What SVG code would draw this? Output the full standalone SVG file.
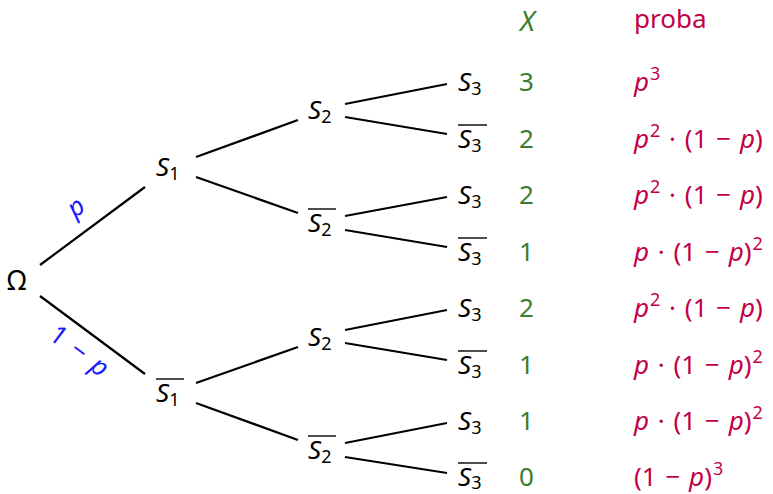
<svg xmlns="http://www.w3.org/2000/svg" width="773" height="494" viewBox="0 0 773 494">
<style>
text{font-family:"Noto Sans","DejaVu Sans",sans-serif;font-size:26px;fill:#000}
.v{font-style:italic}
.sub{font-size:18px;font-style:normal}
.sup{font-size:18px;font-style:normal}
.g{fill:#3a7d2e}
.r{fill:#c20046;word-spacing:2px}
.b{fill:#1a1aff;font-size:26px;word-spacing:4px}
.e{stroke:#000;stroke-width:2.2;fill:none}
.ov{stroke:#000;stroke-width:1.4}
</style>
<rect width="773" height="494" fill="#fff"/>
<g id="edges">
<line class="e" x1="40" y1="265" x2="145" y2="187"/>
<line class="e" x1="40" y1="296" x2="145" y2="374"/>
<line class="e" x1="196" y1="157" x2="298" y2="120"/>
<line class="e" x1="196" y1="177" x2="298" y2="213"/>
<line class="e" x1="196" y1="383" x2="298" y2="347"/>
<line class="e" x1="196" y1="403" x2="298" y2="440"/>
<line class="e" x1="345" y1="104" x2="447" y2="84"/>
<line class="e" x1="345" y1="117" x2="447" y2="134"/>
<line class="e" x1="345" y1="216" x2="447" y2="197"/>
<line class="e" x1="345" y1="230" x2="447" y2="247"/>
<line class="e" x1="345" y1="330" x2="447" y2="310"/>
<line class="e" x1="345" y1="343" x2="447" y2="360"/>
<line class="e" x1="345" y1="443" x2="447" y2="423"/>
<line class="e" x1="345" y1="457" x2="447" y2="473"/>
<text class="b v" transform="translate(81,214) rotate(-37)" text-anchor="middle">p</text>
<text class="b" transform="translate(74,358) rotate(37)" text-anchor="middle">1 − <tspan class="v">p</tspan></text>
</g>
<g id="omega"><text x="7" y="290" style="font-size:27px">Ω</text></g>
<g id="s1"><text x="156" y="176" class="v">S<tspan class="sub" dy="4">1</tspan></text></g>
<g id="s1bar"><text x="156" y="402" class="v">S<tspan class="sub" dy="4">1</tspan></text><line class="ov" x1="156" y1="379" x2="184" y2="379"/></g>
<g id="s2a"><text x="308" y="119" class="v">S<tspan class="sub" dy="4">2</tspan></text></g>
<g id="s2b"><text x="308" y="232" class="v">S<tspan class="sub" dy="4">2</tspan></text><line class="ov" x1="308" y1="209" x2="336" y2="209"/></g>
<g id="s2c"><text x="308" y="346" class="v">S<tspan class="sub" dy="4">2</tspan></text></g>
<g id="s2d"><text x="308" y="459" class="v">S<tspan class="sub" dy="4">2</tspan></text><line class="ov" x1="308" y1="436" x2="336" y2="436"/></g>
<g id="s3a"><text x="458" y="91" class="v">S<tspan class="sub" dy="4">3</tspan></text></g>
<g id="s3b"><text x="458" y="148" class="v">S<tspan class="sub" dy="4">3</tspan></text><line class="ov" x1="458" y1="125" x2="487" y2="125"/></g>
<g id="s3c"><text x="458" y="204" class="v">S<tspan class="sub" dy="4">3</tspan></text></g>
<g id="s3d"><text x="458" y="261" class="v">S<tspan class="sub" dy="4">3</tspan></text><line class="ov" x1="458" y1="238" x2="487" y2="238"/></g>
<g id="s3e"><text x="458" y="317" class="v">S<tspan class="sub" dy="4">3</tspan></text></g>
<g id="s3f"><text x="458" y="374" class="v">S<tspan class="sub" dy="4">3</tspan></text><line class="ov" x1="458" y1="351" x2="487" y2="351"/></g>
<g id="s3g"><text x="458" y="430" class="v">S<tspan class="sub" dy="4">3</tspan></text></g>
<g id="s3h"><text x="458" y="486" class="v">S<tspan class="sub" dy="3">3</tspan></text><line class="ov" x1="458" y1="463" x2="487" y2="463"/></g>
<g id="colX">
<text x="520" y="31" class="g v" style="font-size:28px">X</text>
<text x="519" y="91" class="g">3</text>
<text x="519" y="148" class="g">2</text>
<text x="519" y="204" class="g">2</text>
<text x="519" y="261" class="g">1</text>
<text x="519" y="317" class="g">2</text>
<text x="519" y="374" class="g">1</text>
<text x="519" y="430" class="g">1</text>
<text x="519" y="486" class="g">0</text>
</g>
<g id="colP">
<text x="634" y="28" class="r">proba</text>
<text x="634" y="91" class="r"><tspan class="v">p</tspan><tspan class="sup" dx="1" dy="-11">3</tspan></text>
<text x="634" y="148" class="r"><tspan class="v">p</tspan><tspan class="sup" dx="1" dy="-11">2</tspan><tspan dy="11"> · (1 − </tspan><tspan class="v">p</tspan>)</text>
<text x="634" y="204" class="r"><tspan class="v">p</tspan><tspan class="sup" dx="1" dy="-11">2</tspan><tspan dy="11"> · (1 − </tspan><tspan class="v">p</tspan>)</text>
<text x="634" y="261" class="r"><tspan class="v">p</tspan> · (1 − <tspan class="v">p</tspan>)<tspan class="sup" dx="1" dy="-11">2</tspan></text>
<text x="634" y="317" class="r"><tspan class="v">p</tspan><tspan class="sup" dx="1" dy="-11">2</tspan><tspan dy="11"> · (1 − </tspan><tspan class="v">p</tspan>)</text>
<text x="634" y="374" class="r"><tspan class="v">p</tspan> · (1 − <tspan class="v">p</tspan>)<tspan class="sup" dx="1" dy="-11">2</tspan></text>
<text x="634" y="430" class="r"><tspan class="v">p</tspan> · (1 − <tspan class="v">p</tspan>)<tspan class="sup" dx="1" dy="-11">2</tspan></text>
<text x="634" y="486" class="r">(1 − <tspan class="v">p</tspan>)<tspan class="sup" dx="1" dy="-11">3</tspan></text>
</g>
</svg>
